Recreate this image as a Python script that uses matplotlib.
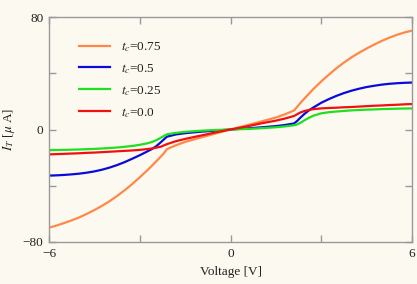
import matplotlib
matplotlib.use("Agg")
import matplotlib.pyplot as plt
from matplotlib.ticker import FixedLocator

voltage = [-6, -5.75, -5.5, -5.25, -5, -4.75, -4.5, -4.25, -4, -3.75, -3.5, -3.25, -3, -2.75, -2.6,
           -2.45, -2.3, -2.2, -2.1, -1.8, -1.5, -1, -0.5,
           0, 0.5, 1, 1.5, 1.8, 2.1, 2.2, 2.3, 2.45, 2.6, 2.75, 3, 3.25, 3.5, 3.75, 4, 4.25, 4.5,
           4.75, 5, 5.25, 5.5, 5.75, 6]

i_075 = [-69.8, -68.3, -66.5, -64.6, -62.5, -60.0, -57.3, -54.3, -51.0, -47.3, -43.2, -38.8, -34.0,
         -29.0, -25.8, -22.5, -19.2, -16.8, -13.9, -11.2, -8.8, -5.8, -2.9,
         0, 2.8, 5.6, 8.5, 10.8, 13.5, 16.0, 18.6, 22.2, 25.6, 29.0, 34.2, 39.0, 43.5, 47.6, 51.3,
         54.6, 57.6, 60.4, 63.0, 65.3, 67.3, 69.0, 70.3]
i_05 = [-32.8, -32.6, -32.3, -31.9, -31.4, -30.7, -29.8, -28.6, -27.1, -25.3, -23.2, -20.8, -18.3,
        -15.6, -13.9, -11.8, -9.0, -7.0, -5.1, -3.5, -2.6, -1.6, -0.8,
        0, 0.7, 1.5, 2.4, 3.2, 4.3, 6.0, 8.2, 11.2, 13.7, 15.8, 19.0, 21.6, 23.9, 25.9, 27.6,
        29.0, 30.2, 31.1, 31.9, 32.5, 32.9, 33.2, 33.4]
i_025 = [-14.7, -14.6, -14.5, -14.35, -14.2, -14.0, -13.8, -13.5, -13.2, -12.8, -12.3, -11.7, -10.9,
         -9.8, -8.9, -7.6, -5.8, -4.6, -3.4, -2.4, -1.7, -0.9, -0.35,
         0, 0.35, 0.9, 1.6, 2.2, 3.0, 3.6, 4.6, 6.6, 8.4, 9.9, 11.5, 12.3, 12.8, 13.2, 13.6,
         13.9, 14.1, 14.3, 14.5, 14.65, 14.8, 14.9, 15.0]
i_00 = [-17.7, -17.5, -17.3, -17.1, -16.9, -16.6, -16.4, -16.1, -15.8, -15.5, -15.2, -14.9, -14.5,
        -13.9, -13.5, -12.9, -12.2, -11.3, -10.4, -8.3, -6.7, -4.4, -2.1,
        0, 2.0, 4.3, 6.3, 7.8, 9.6, 10.8, 12.0, 13.2, 13.9, 14.5, 15.0, 15.3, 15.5, 15.8, 16.0,
        16.3, 16.6, 16.9, 17.1, 17.4, 17.6, 17.9, 18.1]

series = [
    (i_075, "0.75", "#FF8848"),
    (i_05, "0.5", "#0A0ADC"),
    (i_025, "0.25", "#1EE01E"),
    (i_00, "0.0", "#F01010"),
]

plt.rcParams["font.family"] = ["Liberation Serif", "DejaVu Serif"]
plt.rcParams["mathtext.fontset"] = "stix"

bg = "#FCF9F0"
fig = plt.figure(figsize=(4.17, 2.84), dpi=100, facecolor=bg)
ax = fig.add_axes([49 / 417, 1 - 242 / 284, (412 - 49) / 417, (242 - 17) / 284])
ax.set_facecolor(bg)

for vals, lab, col in series:
    ax.plot(voltage, vals, color=col, lw=1.6, label=r"$t_c$=" + lab)

ax.set_xlim(-6, 6)
ax.set_ylim(-80, 80)
ax.xaxis.set_major_locator(FixedLocator([-6, 0, 6]))
ax.xaxis.set_minor_locator(FixedLocator([-3, 3]))
ax.yaxis.set_major_locator(FixedLocator([-80, 0, 80]))
ax.yaxis.set_minor_locator(FixedLocator([-40, 40]))
ax.set_xticklabels(["\u22126", "0", "6"])
ax.set_yticklabels(["\u221280", "0", "80"])

gray = "#999999"
for s in ax.spines.values():
    s.set_color(gray)
    s.set_linewidth(1.0)
ax.tick_params(which="both", direction="in", top=True, right=True, color=gray,
               width=1.0, length=5, labelsize=9.5, labelcolor="#222222", pad=4)

ax.set_xlabel("Voltage [V]", fontsize=9.5, color="#222222", labelpad=5)
ax.set_ylabel(r"$I_T$ [$\mu$ A]", fontsize=9.5, color="#222222", labelpad=4)

leg = ax.legend(loc="upper left", bbox_to_anchor=(0.05, 0.95), frameon=False,
                fontsize=9.5, handlelength=2.35, handletextpad=0.85, labelspacing=0.62)
for t in leg.get_texts():
    t.set_color("#222222")

fig.savefig("out.png", dpi=100, facecolor=bg)
